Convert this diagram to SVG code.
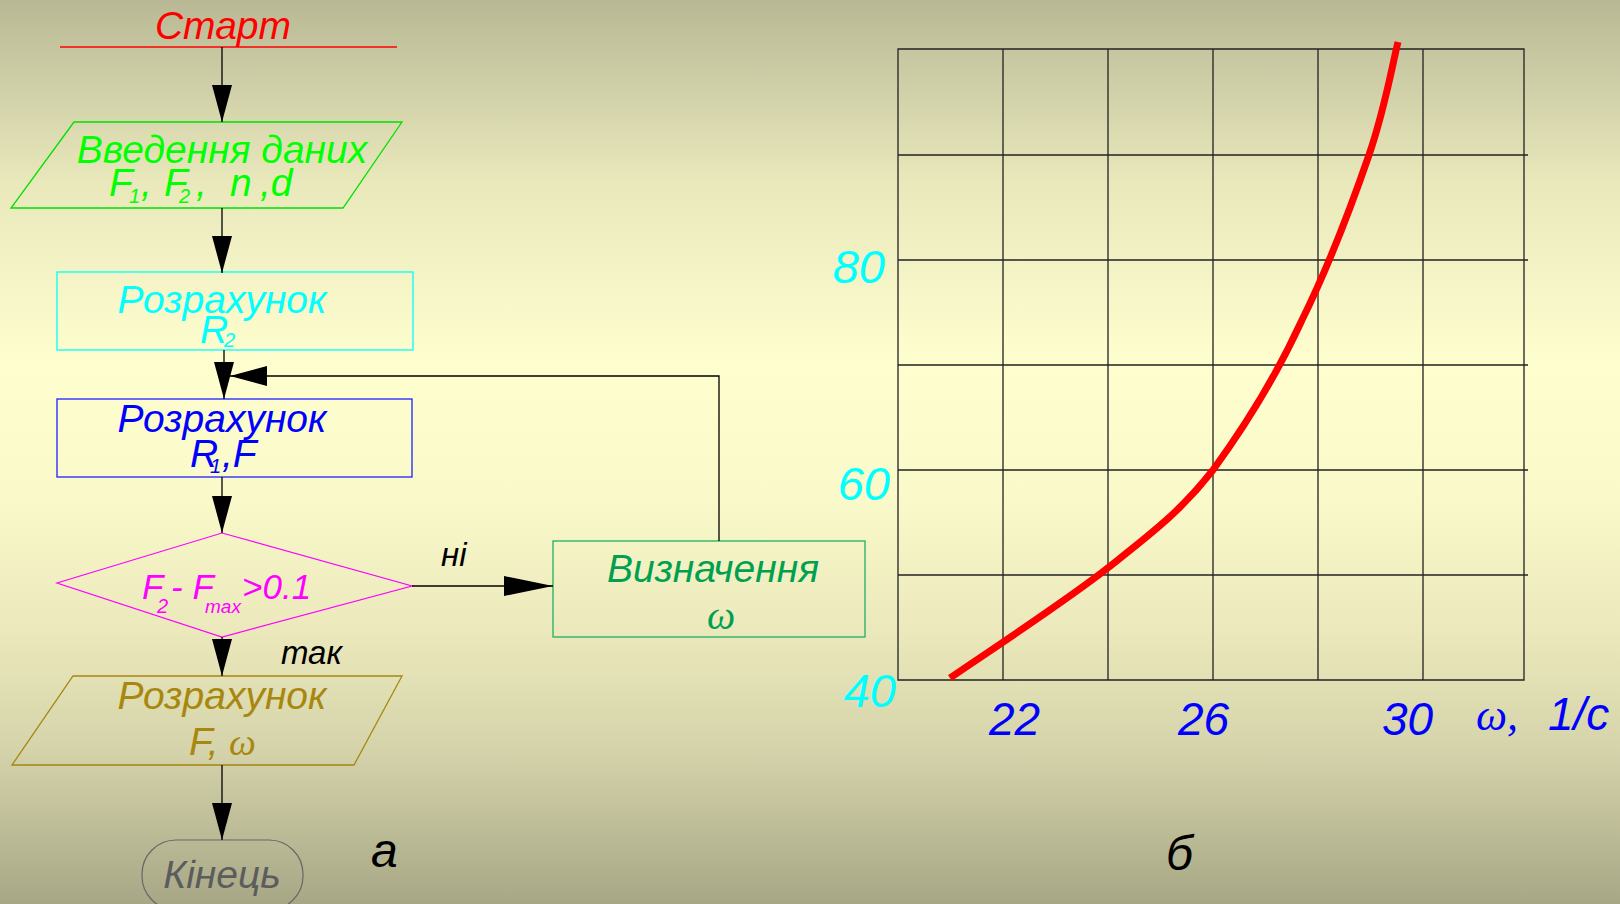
<svg xmlns="http://www.w3.org/2000/svg" width="1620" height="904" viewBox="0 0 1620 904">
<defs>
<linearGradient id="bg" x1="0" y1="0" x2="0" y2="1">
<stop offset="0" stop-color="#b8b894"/>
<stop offset="0.07" stop-color="#c9c9a3"/>
<stop offset="0.2" stop-color="#e9e8bb"/>
<stop offset="0.4" stop-color="#fefecf"/>
<stop offset="0.55" stop-color="#faf9ca"/>
<stop offset="0.7" stop-color="#ebe9bb"/>
<stop offset="0.83" stop-color="#d4d3aa"/>
<stop offset="1" stop-color="#a7a786"/>
</linearGradient>
<marker id="arrV" markerUnits="userSpaceOnUse" markerWidth="38" markerHeight="20" refX="37" refY="10" orient="auto">
<path d="M0,0 L37,10 L0,20 z" fill="#000"/>
</marker>
<marker id="arrL" markerUnits="userSpaceOnUse" markerWidth="50" markerHeight="20" refX="49" refY="10" orient="auto">
<path d="M0,0 L49,10 L0,20 z" fill="#000"/>
</marker>
<style>
text{font-family:"Liberation Sans",Arial,sans-serif;font-style:italic}
.big{font-size:39px}
.sub{font-size:20px}
.om{font-family:"Liberation Serif","Times New Roman",serif;font-style:italic;font-weight:normal}
.conn{stroke:#000;stroke-width:1.3;fill:none}
.grid{stroke:#222;stroke-width:1.3;fill:none}
.ylab{font-size:47px;fill:#00ffff;text-anchor:end}
.xlab{font-size:46px;fill:#0000ff}
</style>
</defs>
<rect x="0" y="0" width="1620" height="904" fill="url(#bg)"/>

<g id="start">
<line x1="60" y1="47" x2="397" y2="47" stroke="#ff0000" stroke-width="1.3"/>
<text class="big" x="223" y="39" fill="#ff0000" text-anchor="middle">Старт</text>
</g>

<g id="input">
<polygon points="74,122 402,122 343,208 11,208" fill="none" stroke="#00e000" stroke-width="1.3"/>
<text class="big" x="222" y="163" fill="#00ff00" text-anchor="middle">Введення даних</text>
<text class="big" y="196" fill="#00ff00"><tspan x="109">F</tspan><tspan class="sub" x="129" y="203">1</tspan><tspan x="141" y="196">,</tspan><tspan x="164">F</tspan><tspan class="sub" x="179" y="203">2</tspan><tspan x="196" y="196">,</tspan><tspan x="230">n</tspan><tspan x="260">,d</tspan></text>
</g>

<g id="calcR2">
<rect x="57" y="272" width="356" height="78" fill="none" stroke="#00ffff" stroke-width="1.3"/>
<text class="big" x="222" y="313" fill="#00ffff" text-anchor="middle">Розрахунок</text>
<text class="big" x="200" y="343" fill="#00ffff">R</text>
<text class="sub" x="224" y="347" fill="#00ffff">2</text>
</g>

<g id="calcR1">
<rect x="57" y="399" width="355" height="78" fill="none" stroke="#2020ff" stroke-width="1.3"/>
<text class="big" x="222" y="432" fill="#0000ff" text-anchor="middle">Розрахунок</text>
<text class="big" y="467" fill="#0000ff"><tspan x="190">R</tspan><tspan class="sub" x="210" y="473">1</tspan><tspan x="222" y="467">,F</tspan></text>
</g>

<g id="decision">
<polygon points="222,533 412,586 222,637 57,583" fill="none" stroke="#ff00ff" stroke-width="1.2"/>
<text y="599" fill="#ff00ff" style="font-size:35px"><tspan x="142">F</tspan><tspan class="sub" x="157" y="613">2</tspan><tspan x="171" y="599">- F</tspan><tspan style="font-size:19px" x="205" y="613">max</tspan><tspan x="242" y="599">&gt;0.1</tspan></text>
</g>

<g id="determine">
<rect x="553" y="541" width="312" height="96" fill="none" stroke="#20b060" stroke-width="1.3"/>
<text class="big" x="713" y="582" fill="#00a050" text-anchor="middle">Визначення</text>
<text class="om" x="707" y="629" fill="#00a050" style="font-size:40px">ω</text>
</g>

<g id="output">
<polygon points="73,676 402,676 354,765 12,765" fill="none" stroke="#a8870f" stroke-width="1.3"/>
<text class="big" x="222" y="709" fill="#a8870f" text-anchor="middle">Розрахунок</text>
<text class="big" x="189" y="755" fill="#a8870f">F,</text>
<text class="om" x="229" y="755" fill="#a8870f" style="font-size:38px">ω</text>
</g>

<g id="end">
<rect x="142" y="840" width="161" height="70" rx="34" ry="34" fill="none" stroke="#666" stroke-width="1.2"/>
<text class="big" x="222" y="888" fill="#5c5c5c" text-anchor="middle">Кінець</text>
</g>

<g id="connectors">
<line class="conn" x1="222" y1="47" x2="222" y2="122" marker-end="url(#arrV)"/>
<line class="conn" x1="222" y1="208" x2="222" y2="273" marker-end="url(#arrV)"/>
<line class="conn" x1="224" y1="350" x2="224" y2="399" marker-end="url(#arrV)"/>
<line class="conn" x1="222" y1="477" x2="222" y2="533" marker-end="url(#arrV)"/>
<line class="conn" x1="222" y1="637" x2="222" y2="676" marker-end="url(#arrV)"/>
<line class="conn" x1="222" y1="765" x2="222" y2="840" marker-end="url(#arrV)"/>
<line class="conn" x1="412" y1="586" x2="553" y2="586" marker-end="url(#arrL)"/>
<polyline class="conn" points="719,541 719,376 230,376" marker-end="url(#arrV)"/>
<text x="441" y="566" style="font-size:33px" fill="#000">ні</text>
<text x="281" y="664" style="font-size:33px" fill="#000">так</text>
</g>

<text x="371" y="867" style="font-size:48px" fill="#000">а</text>

<g id="chart">
<path class="grid" d="M898,49 H1524 V680 H898 Z M1003,49 V680 M1108,49 V680 M1213,49 V680 M1318,49 V680 M1423,49 V680 M898,155 H1528 M898,260 H1528 M898,365 H1528 M898,470 H1528 M898,575 H1528"/>
<path d="M950,678 C976.5,659.5 1065.2,601.7 1109,567 C1152.8,532.3 1180.8,511.2 1213,470 C1248,422 1280,368 1302,320 C1328,267.5 1353,201.3 1369,155 C1385,108.7 1393.2,60.8 1398,42" fill="none" stroke="#ff0000" stroke-width="7"/>
<text class="ylab" x="885" y="283">80</text>
<text class="ylab" x="890" y="500">60</text>
<text class="ylab" x="896" y="707">40</text>
<text class="xlab" x="989" y="735">22</text>
<text class="xlab" x="1178" y="735">26</text>
<text class="xlab" x="1382" y="735">30</text>
<text class="om" x="1476" y="730" fill="#0000ff" style="font-size:44px">ω,</text>
<text class="xlab" x="1548" y="730">1/с</text>
</g>

<text x="1166" y="870" style="font-size:48px" fill="#000">б</text>
</svg>
